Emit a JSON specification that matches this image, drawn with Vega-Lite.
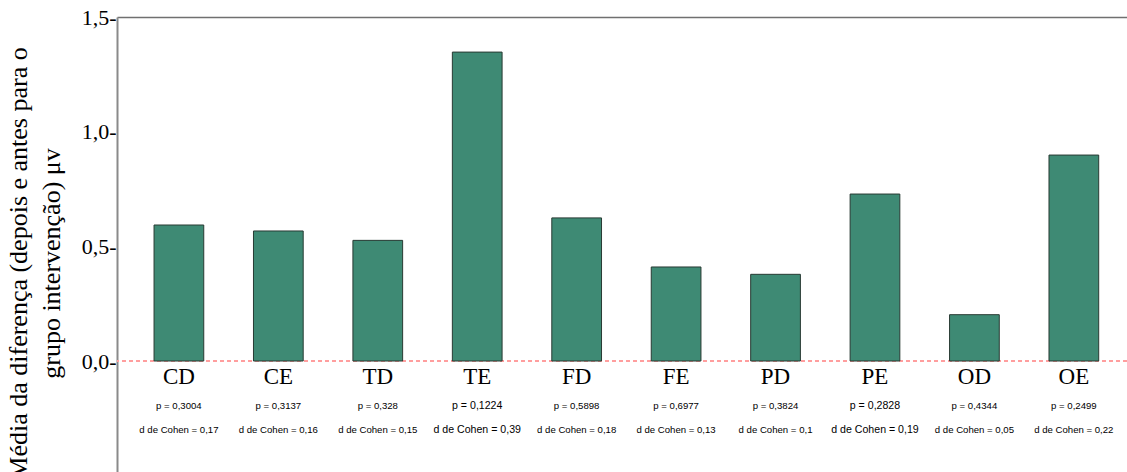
{
  "$schema": "https://vega.github.io/schema/vega-lite/v6.json",
  "width": 1010,
  "height": 455,
  "autosize": {"type": "none"},
  "padding": {"left": 117, "top": 17, "right": 0, "bottom": 0},
  "background": "white",
  "config": {
    "view": {"stroke": null}
  },
  "title": {
    "text": ["Média da diferença (depois e antes para o", "grupo intervenção) μv"],
    "orient": "left",
    "anchor": "middle",
    "frame": "group",
    "font": "Liberation Serif",
    "fontSize": 26,
    "fontWeight": "normal",
    "color": "black",
    "lineHeight": 33,
    "offset": 16,
    "dx": -19
  },
  "data": {
    "values": [
      {"cat": "CD", "value": 0.593, "p": 0.3004, "d": 0.17},
      {"cat": "CE", "value": 0.567, "p": 0.3137, "d": 0.16},
      {"cat": "TD", "value": 0.526, "p": 0.328, "d": 0.15},
      {"cat": "TE", "value": 1.347, "p": 0.1224, "d": 0.39},
      {"cat": "FD", "value": 0.624, "p": 0.5898, "d": 0.18},
      {"cat": "FE", "value": 0.41, "p": 0.6977, "d": 0.13},
      {"cat": "PD", "value": 0.378, "p": 0.3824, "d": 0.1},
      {"cat": "PE", "value": 0.728, "p": 0.2828, "d": 0.19},
      {"cat": "OD", "value": 0.202, "p": 0.4344, "d": 0.05},
      {"cat": "OE", "value": 0.898, "p": 0.2499, "d": 0.22}
    ]
  },
  "transform": [
    {"calculate": "'p = ' + replace(format(datum.p, '~g'), '.', ',')", "as": "p_label"},
    {"calculate": "'d de Cohen = ' + replace(format(datum.d, '~g'), '.', ',')", "as": "d_label"}
  ],
  "encoding": {
    "x": {
      "field": "cat",
      "type": "nominal",
      "sort": null,
      "scale": {"paddingInner": 0.5, "paddingOuter": 0.3285, "align": 0.567},
      "axis": {
        "orient": "top",
        "title": null,
        "labels": false,
        "ticks": false,
        "domain": true,
        "domainColor": "#707070",
        "domainWidth": 1.5
      }
    },
    "y": {
      "type": "quantitative",
      "scale": {"domain": [-0.484, 1.5], "nice": false, "zero": false},
      "axis": {
        "values": [0, 0.5, 1, 1.5],
        "labelExpr": "replace(format(datum.value, '.1f'), '.', ',') + '-'",
        "grid": false,
        "ticks": false,
        "domainColor": "#8a8a8a",
        "domainWidth": 2,
        "labelFont": "Liberation Serif",
        "labelFontSize": 22,
        "labelColor": "black",
        "labelPadding": 1,
        "labelBaseline": "middle",
        "title": null
      }
    }
  },
  "layer": [
    {
      "mark": {"type": "rule", "color": "#ff9e9e", "strokeWidth": 1.5, "strokeDash": [4, 3]},
      "encoding": {"x": null, "y": {"datum": 0, "type": "quantitative"}}
    },
    {
      "mark": {"type": "bar", "fill": "#3e8a74", "stroke": "#283a33", "strokeWidth": 1},
      "encoding": {"y": {"field": "value", "type": "quantitative"}}
    },
    {
      "mark": {"type": "text", "font": "Liberation Serif", "fontSize": 23, "color": "black", "baseline": "alphabetic", "dy": 23},
      "encoding": {"y": {"datum": 0, "type": "quantitative"}, "text": {"field": "cat"}}
    },
    {
      "mark": {"type": "text", "font": "Liberation Sans", "color": "black", "baseline": "alphabetic", "dy": 48},
      "encoding": {
        "y": {"datum": 0, "type": "quantitative"},
        "text": {"field": "p_label"},
        "size": {"condition": {"test": "datum.cat === 'TE' || datum.cat === 'PE'", "value": 10.6}, "value": 9.6}
      }
    },
    {
      "mark": {"type": "text", "font": "Liberation Sans", "color": "black", "baseline": "alphabetic", "dy": 71.5},
      "encoding": {
        "y": {"datum": 0, "type": "quantitative"},
        "text": {"field": "d_label"},
        "size": {"condition": {"test": "datum.cat === 'TE' || datum.cat === 'PE'", "value": 10.6}, "value": 9.6}
      }
    }
  ]
}
